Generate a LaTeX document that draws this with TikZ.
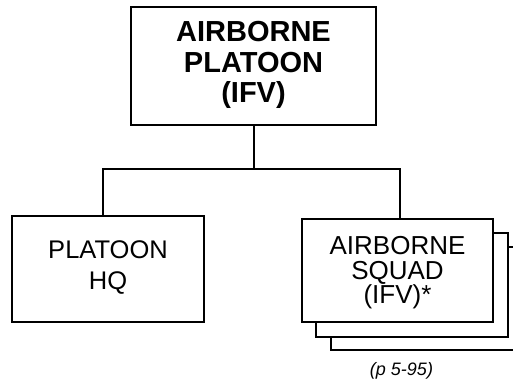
\documentclass[tikz,border=0pt]{standalone}
\usepackage{fontspec}
\setmainfont{Liberation Sans}
\begin{document}
\begin{tikzpicture}[x=1pt,y=-1pt,
  box/.style={draw=black,fill=white,line width=2.6pt,rectangle,inner sep=0pt},
  conn/.style={draw=black,line width=2pt},
  lbl/.style={inner sep=0pt,align=center,text=black}]
\clip (0,0) rectangle (513,387);
\fill[white] (0,0) rectangle (513,387);
% top box
\node[box,minimum width=245pt,minimum height=118pt] (top) at (253.5,66) {};
\node[lbl,font=\fontsize{29}{30.5}\selectfont\bfseries] (toptxt) at (253.5,65) {AIRBORNE\\PLATOON\\(IFV)};
% platoon HQ
\node[box,minimum width=192pt,minimum height=106pt] (hq) at (108,269) {};
\node[lbl,font=\fontsize{25.5}{31}\selectfont] (hqtxt) at (108,268) {PLATOON\\HQ};
% squad stack
\node[box,minimum width=192pt,minimum height=103pt] (sq3) at (427,298.5) {};
\node[box,minimum width=192pt,minimum height=104pt] (sq2) at (412,285) {};
\node[box,minimum width=191pt,minimum height=103pt] (sq1) at (397.5,270.5) {};
\node[lbl,font=\fontsize{26}{24.5}\selectfont] (sqtxt) at (397.5,273) {AIRBORNE\\SQUAD\\(IFV)*};
% connectors
\coordinate (j) at (253.5,169);
\draw[conn] (top.south) -- (j);
\draw[conn] ([xshift=-5pt]hq.north) |- (j) -| ([xshift=2.5pt]sq1.north);
% footer
\node[inner sep=0pt,anchor=base,font=\fontsize{18}{20}\selectfont\itshape] (ref) at (401.5,375) {(p 5-95)};
\end{tikzpicture}
\end{document}
